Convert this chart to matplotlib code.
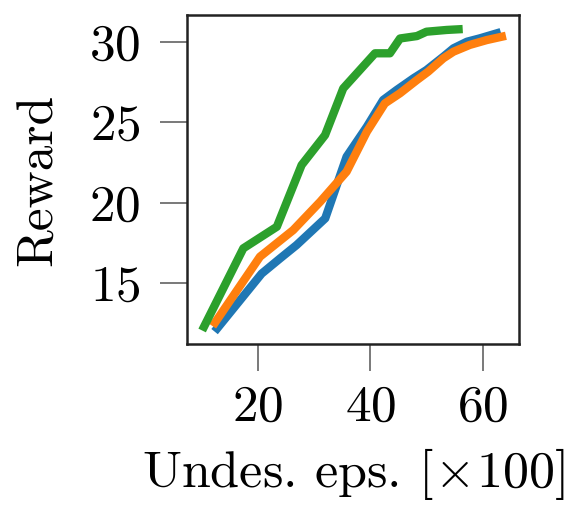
import matplotlib
matplotlib.use("Agg")
import matplotlib.pyplot as plt

plt.rcParams["font.family"] = "serif"
plt.rcParams["font.serif"] = ["cmr10", "DejaVu Serif"]
plt.rcParams["mathtext.fontset"] = "cm"
plt.rcParams["axes.formatter.use_mathtext"] = True

# Undesired episodes (x100) and reward for three runs
blue_x = [12.8, 20.7, 24.0, 26.9, 32.0, 35.8, 39.4, 42.3, 44.7, 47.7, 50.0, 53.0, 54.8, 57.2, 59.5, 62.5]
blue_y = [12.2, 15.6, 16.55, 17.37, 19.03, 22.86, 24.72, 26.38, 27.0, 27.73, 28.24, 29.07, 29.59, 30.0, 30.21, 30.52]

orange_x = [12.4, 20.4, 26.3, 31.1, 35.8, 39.4, 42.6, 45.3, 48.3, 50.3, 53.0, 54.8, 57.7, 60.7, 63.4]
orange_y = [12.55, 16.65, 18.3, 20.06, 21.93, 24.41, 26.17, 26.8, 27.62, 28.14, 28.97, 29.38, 29.8, 30.1, 30.31]

green_x = [10.45, 17.44, 23.4, 27.8, 31.97, 35.2, 40.85, 43.5, 45.3, 48.3, 50.0, 53.6, 55.7]
green_y = [12.3, 17.17, 18.51, 22.34, 24.2, 27.1, 29.28, 29.28, 30.2, 30.35, 30.62, 30.73, 30.77]

x_ticks = [20, 40, 60]
y_ticks = [15, 20, 25, 30]

fig = plt.figure(figsize=(5.74, 5.09), dpi=100)
ax = fig.add_axes([0.3263, 0.3242, 0.5784, 0.6464])

lw = 6.0
ax.plot(blue_x, blue_y, color="#1f77b4", lw=lw)
ax.plot(orange_x, orange_y, color="#ff7f0e", lw=lw)
ax.plot(green_x, green_y, color="#2ca02c", lw=lw)

ax.set_xlim(7.48, 66.5)
ax.set_ylim(11.23, 31.66)
ax.set_xticks(x_ticks)
ax.set_yticks(y_ticks)

for s in ax.spines.values():
    s.set_linewidth(1.8)
    s.set_color("#222222")

ax.tick_params(axis="both", direction="out", length=19.5, width=1.1,
               colors="#555555", labelcolor="black", labelsize=37)
ax.tick_params(axis="x", pad=10)
ax.tick_params(axis="y", pad=14)

ax.set_xlabel(r"Undes. eps. [$\!\times\!$100]", fontsize=37.5, labelpad=11)
ax.set_ylabel("Reward", fontsize=37, labelpad=20)

fig.savefig("out.png", dpi=100)
